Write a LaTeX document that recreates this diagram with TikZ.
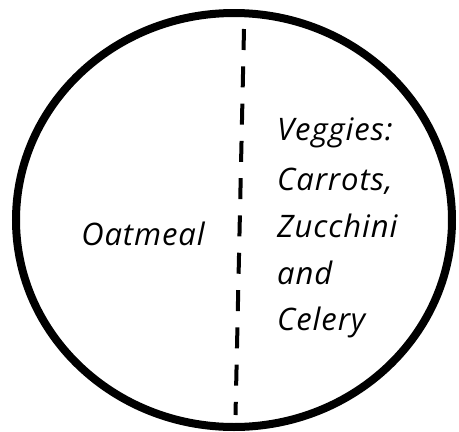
\documentclass[tikz,border=0pt]{standalone}
\usepackage{fontspec}
\usetikzlibrary{shapes.geometric}
\newfontfamily\hand[LetterSpace=3]{Open Sans}
\begin{document}
\begin{tikzpicture}[x=1pt,y=-1pt,
  plate/.style={draw=black,line width=8pt},
  divider/.style={draw=black,line width=4pt,dash pattern=on 21pt off 16.3pt},
  label/.style={font=\hand\itshape\fontsize{31}{36}\selectfont,inner sep=0pt,anchor=base west}]
\useasboundingbox (0,0) rectangle (459,432);
\node[plate,ellipse,minimum width=436pt,minimum height=414pt,inner sep=0pt] (plate) at (234,220) {};
\coordinate (dtop) at (244,29);
\coordinate (dbot) at (235.5,415);
\path[divider] (dtop) -- (dbot);
\node[label,anchor=base] (oat) at (143,245) {Oatmeal};
\node[label] (v1) at (277,140) {Veggies:};
\node[label] (v2) at (277,190) {Carrots,};
\node[label] (v3) at (277,237) {Zucchini};
\node[label] (v4) at (277,284) {and};
\node[label] (v5) at (277,330) {Celery};
\end{tikzpicture}
\end{document}
